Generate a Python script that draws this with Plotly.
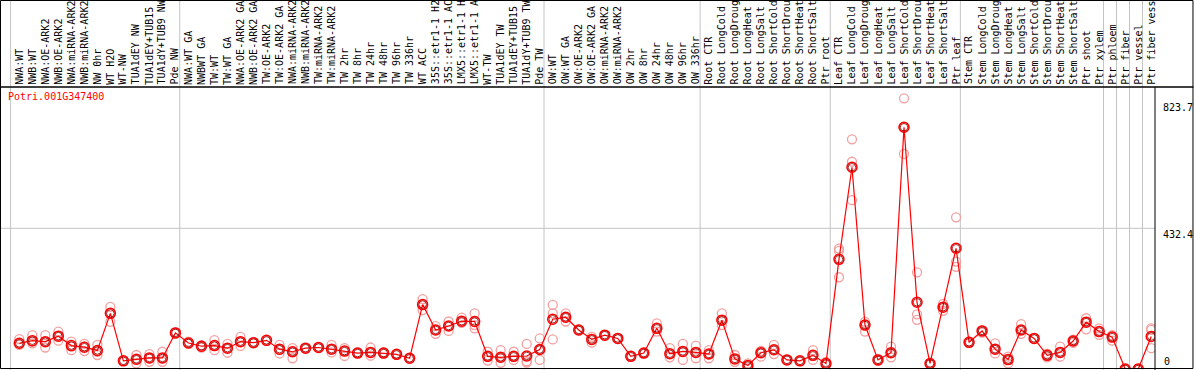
import plotly.graph_objects as go

# ---------------- data ----------------
group1 = ["NWA:WT", "NWB:WT", "NWA:OE-ARK2", "NWB:OE-ARK2", "NWA:miRNA-ARK2", "NWB:miRNA-ARK2",
          "NW 0hr", "WT H2O", "WT-NW", "TUA1dEY NW", "TUA1dEY+TUB15", "TUA1dY+TUB9 NW", "Pde NW"]
group2 = ["NWA:WT GA", "NWBWT GA", "TW:WT", "TW:WT GA", "NWA:OE-ARK2 GA", "NWB:OE-ARK2 GA",
          "TW:OE-ARK2", "TW:OE-ARK2 GA", "NWA:miRNA-ARK2", "NWB:miRNA-ARK2", "TW:miRNA-ARK2",
          "TW:miRNA-ARK2", "TW 2hr", "TW 8hr", "TW 24hr", "TW 48hr", "TW 96hr", "TW 336hr",
          "WT ACC", "35S::etr1-1 H2", "35S::etr1-1 AC", "LMX5::etr1-1 H", "LMX5::etr1-1 A",
          "WT-TW", "TUA1dEY TW", "TUA1dEY+TUB15", "TUA1dY+TUB9 TW", "Pde TW"]
group3 = ["OW:WT", "OW:WT GA", "OW:OE-ARK2", "OW:OE-ARK2 GA", "OW:miRNA-ARK2", "OW:miRNA-ARK2",
          "OW 2hr", "OW 8hr", "OW 24hr", "OW 48hr", "OW 96hr", "OW 336hr"]
group4 = ["Root CTR", "Root LongCold", "Root LongDroug", "Root LongHeat", "Root LongSalt",
          "Root ShortCold", "Root ShortDrou", "Root ShortHeat", "Root ShortSalt", "Ptr root"]
group5 = ["Leaf CTR", "Leaf LongCold", "Leaf LongDroug", "Leaf LongHeat", "Leaf LongSalt",
          "Leaf ShortCold", "Leaf ShortDrou", "Leaf ShortHeat", "Leaf ShortSalt", "Ptr leaf"]
group6 = ["Stem CTR", "Stem LongCold", "Stem LongDroug", "Stem LongHeat", "Stem LongSalt",
          "Stem ShortCold", "Stem ShortDrou", "Stem ShortHeat", "Stem ShortSalt", "Ptr shoot", "Ptr xylem"]
group7 = ["Ptr phloem"]
group8 = ["Ptr fiber"]
group9 = ["Ptr vessel"]
group10 = ["Ptr fiber vess"]
groups = [group1, group2, group3, group4, group5, group6, group7, group8, group9, group10]

gene = "Potri.001G347400"
axis_max_label = "823.7"
axis_mid_value = 432.4

mean_values = [79, 87, 84, 101, 72, 67, 57, 171, 25, 30, 34, 34, 111,
               80, 70, 72, 64, 84, 81, 88, 61, 53, 64, 66, 61, 55, 49, 51, 49, 45, 33,
               198, 120, 132, 147, 146, 39, 36, 39, 40, 60,
               153, 159, 120, 91, 104, 94, 39, 49, 125, 47, 54, 51,
               46, 150, 31, 11, 50, 59, 28, 25, 42, 17,
               337, 620, 135, 28, 50, 743, 205, 17, 190, 371,
               82, 117, 61, 29, 120, 94, 42, 51, 86, 144, 115, 98,
               0, 0, 100]

rep1 = [92, 104, 104, 115, 84, 77, 74, 191, 26, 43, 46, 53, 113,
        84, 73, 89, 77, 99, 82, 89, 74, 64, 65, 67, 74, 64, 50, 66, 51, 46, 34,
        215, 132, 146, 158, 171, 53, 58, 53, 77, 94,
        197, 171, 121, 99, 105, 95, 40, 50, 140, 64, 77, 72,
        58, 171, 43, 17, 56, 74, 29, 26, 58, 22,
        370, 706, 145, 30, 69, 832, 297, 19, 200, 466,
        84, 119, 79, 38, 138, 95, 47, 69, 90, 156, 125, 104,
        0, 0, 125]
rep2 = [77, 84, 84, 101, 69, 69, 53, 171, 25, 28, 33, 33, 111,
        79, 69, 72, 64, 84, 81, 88, 58, 53, 64, 66, 61, 55, 49, 51, 49, 45, 33,
        198, 120, 132, 147, 135, 39, 36, 39, 24, 60,
        171, 159, 120, 91, 104, 94, 39, 49, 125, 47, 54, 51,
        46, 150, 31, 11, 50, 59, 28, 25, 43, 16,
        363, 637, 135, 28, 50, 743, 168, 17, 190, 330,
        82, 117, 61, 29, 120, 94, 42, 51, 86, 144, 115, 98,
        0, 0, 120]
rep3 = [74, 79, 66, 87, 58, 55, 43, 145, 24, 17, 22, 22, 109,
        77, 66, 58, 50, 71, 80, 87, 48, 33, 63, 65, 51, 40, 48, 41, 47, 44, 32,
        181, 108, 117, 142, 125, 26, 19, 28, 20, 28,
        91, 146, 119, 81, 103, 93, 38, 48, 115, 36, 28, 33,
        33, 135, 22, 5, 38, 46, 27, 24, 28, 14,
        282, 519, 115, 25, 36, 661, 151, 15, 179, 314,
        80, 112, 48, 17, 108, 93, 36, 38, 80, 122, 105, 87,
        0, 0, 64]

# ---------------- derived ----------------
labels = [lab for g in groups for lab in g]
idx = list(range(len(labels)))
starts = []
n = 0
for g in groups:
    starts.append(n)
    n += len(g)
starts.append(n)

W, H = 1194, 370
PL, PR, PT, PB = 1, 1155.5, 88, 369   # plot area pixel box
X0, X1 = -1.406, 87.29
Y1 = 863.6

def xp(px):
    return (px - PL) / (PR - PL)

def yp(py):
    return (PB - py) / (PB - PT)

MONO = "DejaVu Sans Mono"

fig = go.Figure()

rep_color = "#f2a0a0"
for rep in (rep1, rep2, rep3):
    fig.add_trace(go.Scatter(
        x=idx, y=rep, mode="markers",
        marker=dict(symbol="circle-open", size=9, color=rep_color, line=dict(width=1.3, color=rep_color)),
        showlegend=False, hoverinfo="skip"))

fig.add_trace(go.Scatter(
    x=idx, y=mean_values, mode="lines",
    line=dict(color="#ff0000", width=1.2),
    showlegend=False, hoverinfo="skip"))
fig.add_trace(go.Scatter(
    x=idx, y=mean_values, mode="markers",
    marker=dict(symbol="circle-open", size=10, color="#ff0000", line=dict(width=1.5, color="#ff0000")),
    showlegend=False, hoverinfo="skip"))
fig.add_trace(go.Scatter(
    x=idx, y=mean_values, mode="markers",
    marker=dict(symbol="circle-open", size=7.5, color="#8a0000", line=dict(width=0.8, color="#8a0000")),
    showlegend=False, hoverinfo="skip"))

shapes = []
# group separators (grey, through label area)
for s in starts:
    shapes.append(dict(type="line", xref="x", yref="paper", x0=s - 0.67, x1=s - 0.67,
                       y0=yp(370), y1=yp(0), line=dict(color="#c4c4c4", width=1), layer="below"))
# horizontal grid at mid value
shapes.append(dict(type="line", xref="paper", yref="y", x0=0, x1=1, y0=axis_mid_value, y1=axis_mid_value,
                   line=dict(color="#c4c4c4", width=1), layer="below"))
# frame
shapes.append(dict(type="rect", xref="paper", yref="paper", x0=xp(0.5), x1=xp(1193.5), y0=yp(368.5), y1=yp(0.5),
                   line=dict(color="black", width=1), fillcolor="rgba(0,0,0,0)"))
shapes.append(dict(type="line", xref="paper", yref="paper", x0=xp(0), x1=xp(1194), y0=yp(87), y1=yp(87),
                   line=dict(color="black", width=1.5)))
shapes.append(dict(type="line", xref="paper", yref="paper", x0=xp(1155.5), x1=xp(1155.5), y0=yp(370), y1=yp(87),
                   line=dict(color="black", width=1)))

annotations = []
for i, lab in enumerate(labels):
    annotations.append(dict(x=i, xref="x", y=yp(85.5), yref="paper", text=lab, textangle=-90,
                            showarrow=False, xanchor="center", yanchor="bottom",
                            font=dict(family=MONO, size=10, color="black"), borderpad=0))
annotations.append(dict(x=xp(7), xref="paper", y=yp(90), yref="paper", text=gene, showarrow=False,
                        xanchor="left", yanchor="top", font=dict(family=MONO, size=10, color="#ff0000"),
                        borderpad=0))
annotations.append(dict(x=xp(1163), xref="paper", y=float(axis_max_label), yref="y", text=axis_max_label,
                        showarrow=False, xanchor="left", yanchor="top",
                        font=dict(family=MONO, size=10, color="black"), borderpad=0))
annotations.append(dict(x=xp(1163), xref="paper", y=axis_mid_value, yref="y", text=str(axis_mid_value),
                        showarrow=False, xanchor="left", yanchor="top",
                        font=dict(family=MONO, size=10, color="black"), borderpad=0))
annotations.append(dict(x=xp(1163), xref="paper", y=0, yref="y", text="0",
                        showarrow=False, xanchor="left", yanchor="bottom",
                        font=dict(family=MONO, size=10, color="black"), borderpad=1))

fig.update_layout(
    width=W, height=H,
    margin=dict(l=PL, r=W - PR, t=PT, b=H - PB, pad=0),
    paper_bgcolor="white", plot_bgcolor="rgba(0,0,0,0)",
    xaxis=dict(range=[X0, X1], visible=False, showgrid=False, zeroline=False),
    yaxis=dict(range=[0, Y1], visible=False, showgrid=False, zeroline=False),
    shapes=shapes, annotations=annotations, showlegend=False,
)

fig.write_html("out.html", config={"displayModeBar": False},
               post_script="document.body.style.margin='0px';document.body.style.overflow='hidden';")
